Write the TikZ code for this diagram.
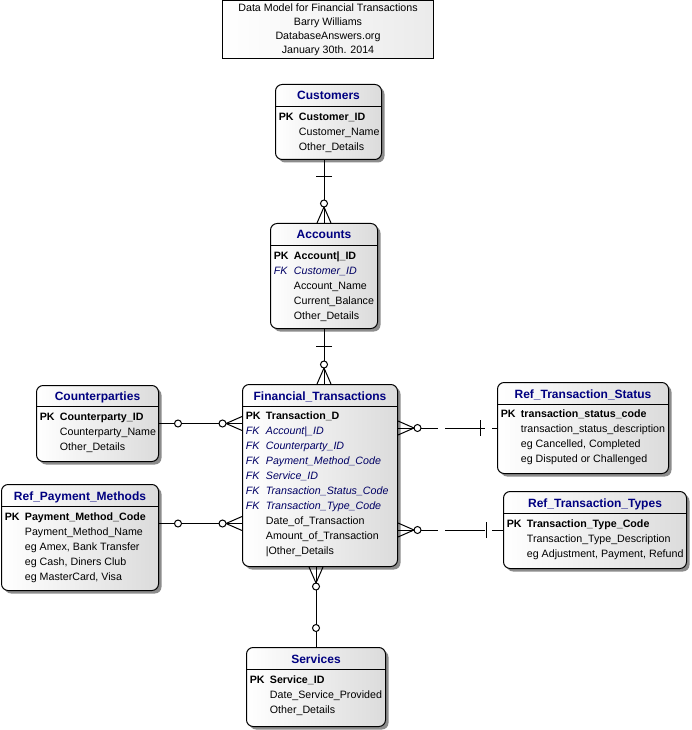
\documentclass[tikz,border=0pt]{standalone}
\usepackage{fontspec}
\setmainfont{Liberation Sans}
\usetikzlibrary{calc,fit,shadows}
\definecolor{hdrblue}{RGB}{0,0,128}
\definecolor{fkblue}{RGB}{0,0,100}
\newcommand{\pkrow}[1]{\textbf{PK} & \textbf{#1}}
\newcommand{\fkrow}[1]{\textcolor{fkblue}{\itshape FK} & \textcolor{fkblue}{\itshape #1}}
\tikzset{
  ent/.style={draw, rounded corners=5pt, inner sep=0pt, line width=0.75pt,
              left color=white, right color=black!14,
              drop shadow={shadow xshift=2.25pt, shadow yshift=-2.25pt,
                           fill=black!45, opacity=1}},
  ttl/.style={draw, line width=0.75pt, left color=white, right color=black!8,
              inner sep=0pt, align=center, font=\fontsize{8}{10.5}\selectfont},
  hdr/.style={font=\fontsize{9}{11}\selectfont\bfseries, text=hdrblue,
              anchor=base, inner sep=0pt},
  body/.style={font=\fontsize{8}{11.25}\selectfont, anchor=north west, inner sep=0pt},
  rel/.style={line width=0.75pt},
  nonid/.style={rel, dash pattern=on 30pt off 5.25pt},
  crowfoot/.pic={\draw[rel] (0,-7) -- (16,0) -- (0,7);
                 \draw[rel,fill=white] (19.5,0) circle[radius=3.5];},
  onebar/.pic={\draw[rel] (17,-8) -- (17,8);},
  zeroring/.pic={\draw[rel,fill=white] (19,0) circle[radius=3.5];},
}
\begin{document}
\begin{tikzpicture}[x=0.75pt,y=-0.75pt]
  \useasboundingbox (0,0) rectangle (691,730);
  \begin{scope}[shift={(0.5,0.5)}]

  % title
  \node[ttl, minimum width=158.25pt, minimum height=43.5pt] (title) at (327.5,29)
    {Data Model for Financial Transactions\\Barry Williams\\DatabaseAnswers.org\\January 30th. 2014};

  % entities
  \node[ent, fit={(275,84) (381,159)}] (cust) {};
  \node[hdr] at (328,99.5) {Customers};
  \draw[rel] (cust.west |- 0,106) -- (cust.east |- 0,106);
  \node[body] (custB) at (278,109) {\begin{tabular}{@{}l@{\hspace{4pt}}l@{}}
    \pkrow{Customer\_ID}\\ & Customer\_Name\\ & Other\_Details\end{tabular}};

  \node[ent, fit={(270,223) (377,328)}] (acc) {};
  \node[hdr] at (323.5,238.5) {Accounts};
  \draw[rel] (acc.west |- 0,245) -- (acc.east |- 0,245);
  \node[body] (accB) at (273,248) {\begin{tabular}{@{}l@{\hspace{4pt}}l@{}}
    \pkrow{Account|\_ID}\\ \fkrow{Customer\_ID}\\ & Account\_Name\\
    & Current\_Balance\\ & Other\_Details\end{tabular}};

  \node[ent, fit={(36,385) (158,461)}] (cp) {};
  \node[hdr] at (97,399.5) {Counterparties};
  \draw[rel] (cp.west |- 0,406) -- (cp.east |- 0,406);
  \node[body] (cpB) at (39,409) {\begin{tabular}{@{}l@{\hspace{4pt}}l@{}}
    \pkrow{Counterparty\_ID}\\ & Counterparty\_Name\\ & Other\_Details\end{tabular}};

  \node[ent, fit={(242,384) (397,566)}] (ft) {};
  \node[hdr] at (319.5,399.5) {Financial\_Transactions};
  \draw[rel] (ft.west |- 0,406) -- (ft.east |- 0,406);
  \node[body] (ftB) at (245,408.5) {\begin{tabular}{@{}l@{\hspace{4pt}}l@{}}
    \pkrow{Transaction\_D}\\ \fkrow{Account|\_ID}\\ \fkrow{Counterparty\_ID}\\
    \fkrow{Payment\_Method\_Code}\\ \fkrow{Service\_ID}\\
    \fkrow{Transaction\_Status\_Code}\\ \fkrow{Transaction\_Type\_Code}\\
    & Date\_of\_Transaction\\ & Amount\_of\_Transaction\\ & |Other\_Details\end{tabular}};

  \node[ent, fit={(497,382) (668,473)}] (st) {};
  \node[hdr] at (582.5,397.5) {Ref\_Transaction\_Status};
  \draw[rel] (st.west |- 0,404) -- (st.east |- 0,404);
  \node[body] (stB) at (500,406.5) {\begin{tabular}{@{}l@{\hspace{4pt}}l@{}}
    \pkrow{transaction\_status\_code}\\ & transaction\_status\_description\\
    & eg Cancelled, Completed\\ & eg Disputed or Challenged\end{tabular}};

  \node[ent, fit={(1,484) (158,590)}] (pm) {};
  \node[hdr] at (79.5,499.5) {Ref\_Payment\_Methods};
  \draw[rel] (pm.west |- 0,506) -- (pm.east |- 0,506);
  \node[body] (pmB) at (4,509) {\begin{tabular}{@{}l@{\hspace{4pt}}l@{}}
    \pkrow{Payment\_Method\_Code}\\ & Payment\_Method\_Name\\
    & eg Amex, Bank Transfer\\ & eg Cash, Diners Club\\ & eg MasterCard, Visa\end{tabular}};

  \node[ent, fit={(503,491) (686,568)}] (ty) {};
  \node[hdr] at (594.5,506.5) {Ref\_Transaction\_Types};
  \draw[rel] (ty.west |- 0,513) -- (ty.east |- 0,513);
  \node[body] (tyB) at (506,516.5) {\begin{tabular}{@{}l@{\hspace{4pt}}l@{}}
    \pkrow{Transaction\_Type\_Code}\\ & Transaction\_Type\_Description\\
    & eg Adjustment, Payment, Refund\end{tabular}};

  \node[ent, fit={(246,647) (385,726)}] (serv) {};
  \node[hdr] at (315.5,662.5) {Services};
  \draw[rel] (serv.west |- 0,669) -- (serv.east |- 0,669);
  \node[body] (servB) at (249,672.5) {\begin{tabular}{@{}l@{\hspace{4pt}}l@{}}
    \pkrow{Service\_ID}\\ & Date\_Service\_Provided\\ & Other\_Details\end{tabular}};

  % relationships
  \coordinate (pmC) at (pm.east |- 0,523);
  \draw[rel] (acc.north) -- (acc.north |- cust.south);
  \draw[rel] (acc.south) -- (acc.south |- ft.north);
  \draw[rel] (cp.east) -- (cp.east -| ft.west);
  \draw[rel] (pmC) -- (pmC -| ft.west);
  \draw[nonid] (st.west -| ft.east) -- (st.west);
  \draw[nonid] (ty.west -| ft.east) -- (ty.west);
  \draw[rel] (serv.north) -- (serv.north |- ft.south);

  \pic[rotate=-90] at (acc.north |- cust.south) {onebar};
  \pic[rotate=90] at (acc.north) {crowfoot};
  \pic[rotate=-90] at (acc.south) {onebar};
  \pic[rotate=90] at (acc.south |- ft.north) {crowfoot};
  \pic at (cp.east) {zeroring};
  \pic[rotate=180] at (cp.east -| ft.west) {crowfoot};
  \pic at (pmC) {zeroring};
  \pic[rotate=180] at (pmC -| ft.west) {crowfoot};
  \pic at (st.west -| ft.east) {crowfoot};
  \pic[rotate=180] at (st.west) {onebar};
  \pic at (ty.west -| ft.east) {crowfoot};
  \pic[rotate=180] at (ty.west) {onebar};
  \pic[rotate=-90] at (serv.north |- ft.south) {crowfoot};
  \pic[rotate=90] at (serv.north) {zeroring};
  \end{scope}
\end{tikzpicture}
\end{document}
